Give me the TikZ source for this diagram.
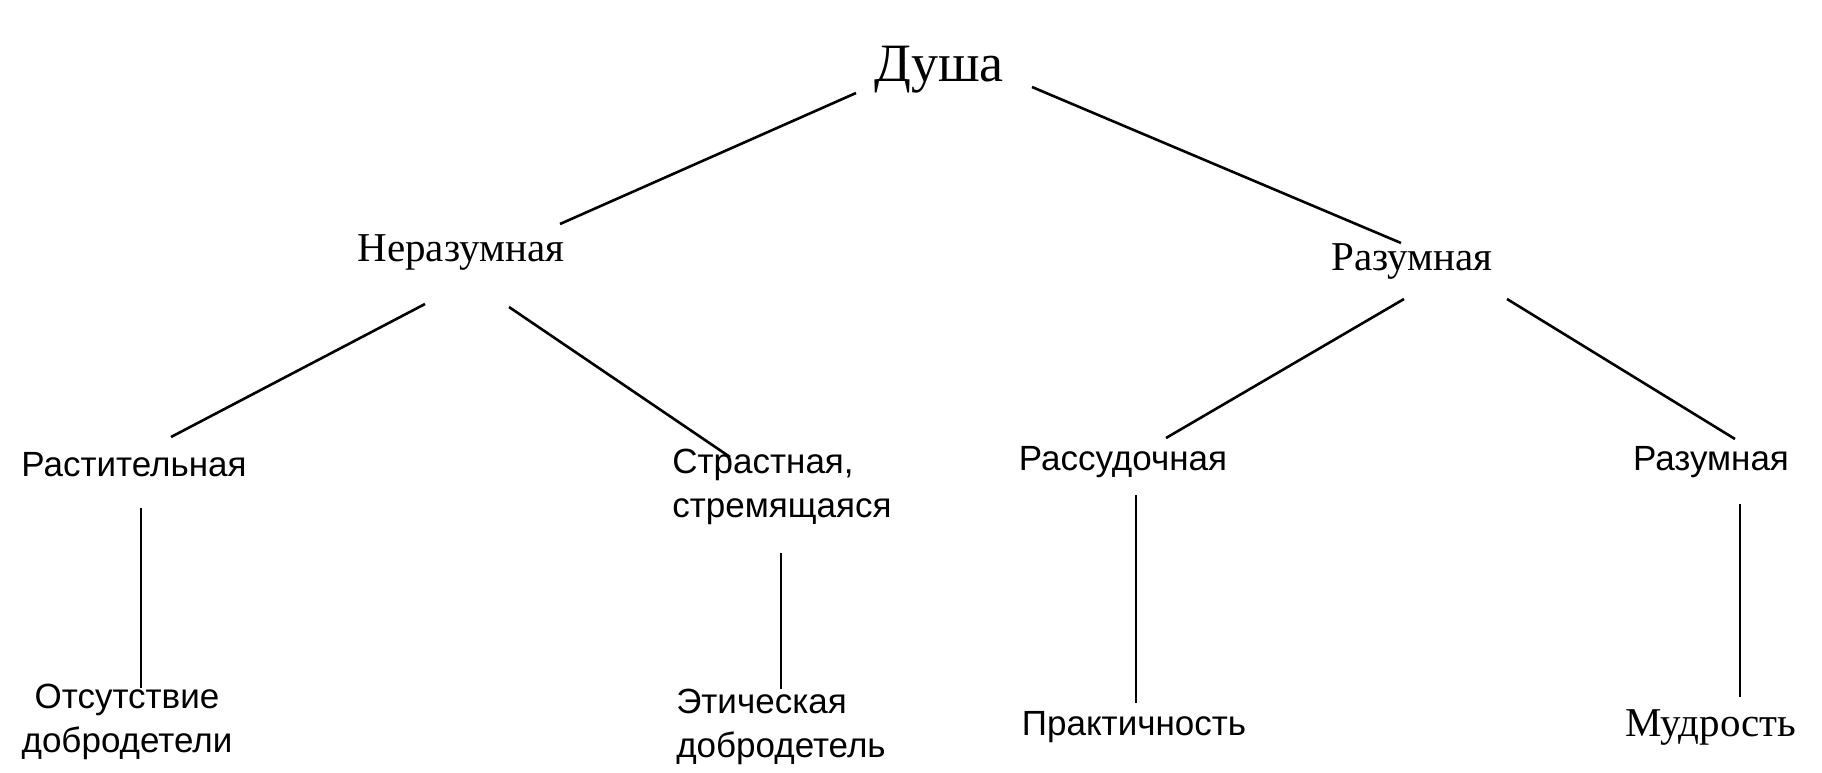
\documentclass[tikz,border=0pt]{standalone}
\usepackage{fontspec}
\setmainfont{Liberation Serif}
\newfontfamily\arialf{Liberation Sans}
\begin{document}
\begin{tikzpicture}[x=1pt,y=-1pt,
  big/.style={font=\fontsize{41}{48}\selectfont, inner sep=0pt},
  top/.style={font=\fontsize{54}{60}\selectfont, inner sep=0pt},
  sml/.style={font=\arialf\fontsize{35}{44}\selectfont, inner sep=0pt, align=center},
  sml2/.style={font=\arialf\fontsize{35}{44}\selectfont, inner sep=0pt, align=left},
  edge/.style={line width=2.6pt}]
\useasboundingbox (0,0) rectangle (1822,772);
\node[top] (dusha) at (939,70) {Душа};
\node[big] (nr) at (461,252) {Неразумная};
\node[big] (r) at (1412,261) {Разумная};
\node[sml] (rast) at (134,465) {Растительная};
\node[sml2] (strast) at (782,487) {Страстная,\\стремящаяся};
\node[sml] (rass) at (1123,462) {Рассудочная};
\node[sml] (r2) at (1711,462) {Разумная};
\node[sml] (ots) at (127,722) {Отсутствие\\добродетели};
\node[sml2] (eth) at (781,727) {Этическая\\добродетель};
\node[sml] (prak) at (1134,727) {Практичность};
\node[big] (mud) at (1711,727) {Мудрость};
\coordinate (a1) at (856,93); \coordinate (a2) at (560,224);
\coordinate (b1) at (1032,87); \coordinate (b2) at (1401,243);
\coordinate (c1) at (425,304); \coordinate (c2) at (171,437);
\coordinate (d1) at (509,307); \coordinate (d2) at (730,457);
\coordinate (e1) at (1404,299); \coordinate (e2) at (1166,438);
\coordinate (f1) at (1507,299); \coordinate (f2) at (1735,439);
\coordinate (g1) at (141,508); \coordinate (g2) at (141,688);
\coordinate (h1) at (781,553); \coordinate (h2) at (781,689);
\coordinate (i1) at (1136,495); \coordinate (i2) at (1136,703);
\coordinate (j1) at (1740,504); \coordinate (j2) at (1740,697);
\foreach \p/\q in {a1/a2,b1/b2,c1/c2,d1/d2,e1/e2,f1/f2,g1/g2,h1/h2,i1/i2,j1/j2}
  \draw[edge] (\p) -- (\q);
\end{tikzpicture}
\end{document}
